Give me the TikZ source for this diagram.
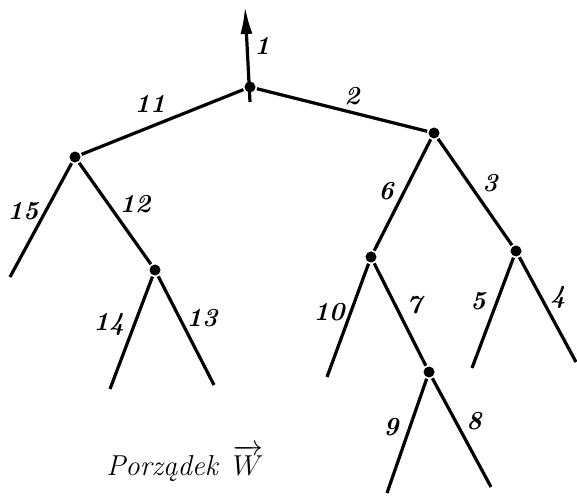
\documentclass[tikz,border=0pt]{standalone}
\usepackage{amsmath}
\usetikzlibrary{positioning, arrows.meta}
\tikzset{
  vert/.style={fill=black, circle, inner sep=0pt, minimum size=5.5pt},
  elabel/.style={font=\fontsize{13}{15}\selectfont\bfseries\itshape, inner sep=1pt},
}
\begin{document}
\begin{tikzpicture}[x=0.5pt, y=-0.5pt, line width=1.6pt]
  \useasboundingbox (0,0) rectangle (577,496);
  \draw
    (250,87) node[vert] (r){}
    (75,157) node[vert] (a){}
    (155,270) node[vert] (c){}
    (434,133) node[vert] (b){}
    (371,257) node[vert] (d){}
    (516,251) node[vert] (e){}
    (429,372) node[vert] (f){}
    (250,102) coordinate (rs)
    (245,6) coordinate (rt)
    (10,277) coordinate (l15)
    (110,389) coordinate (l14)
    (214,385) coordinate (l13)
    (327,377) coordinate (l10)
    (472,368) coordinate (l5)
    (576,362) coordinate (l4)
    (387,493) coordinate (l9)
    (491,487) coordinate (l8);
  \begin{scope}[-]
    \draw[-{Latex[length=14pt,width=6pt]}] (rs) to (rt);
    \draw (r) to (a);
    \draw (r) to (b);
    \draw (a) to (l15);
    \draw (a) to (c);
    \draw (c) to (l14);
    \draw (c) to (l13);
    \draw (b) to (d);
    \draw (b) to (e);
    \draw (d) to (l10);
    \draw (d) to (f);
    \draw (f) to (l9);
    \draw (f) to (l8);
    \draw (e) to (l5);
    \draw (e) to (l4);
  \end{scope}
  % edge numbers
  \path
    (262,46) node[elabel] (t1){1}
    (352,96) node[elabel] (t2){2}
    (490,183) node[elabel] (t3){3}
    (558,297) node[elabel] (t4){4}
    (478,301) node[elabel] (t5){5}
    (386,191) node[elabel] (t6){6}
    (414,305) node[elabel] (t7){7}
    (474,421) node[elabel] (t8){8}
    (391,427) node[elabel] (t9){9}
    (329,312) node[elabel] (t10){10}
    (150,104) node[elabel] (t11){11}
    (135,204) node[elabel] (t12){12}
    (202,318) node[elabel] (t13){13}
    (109,324) node[elabel] (t14){14}
    (23,211) node[elabel] (t15){15};
  \node[font=\Large\itshape, anchor=west] (title) at (98,463) {Porządek\, $\overrightarrow{W}$};
\end{tikzpicture}
\end{document}
